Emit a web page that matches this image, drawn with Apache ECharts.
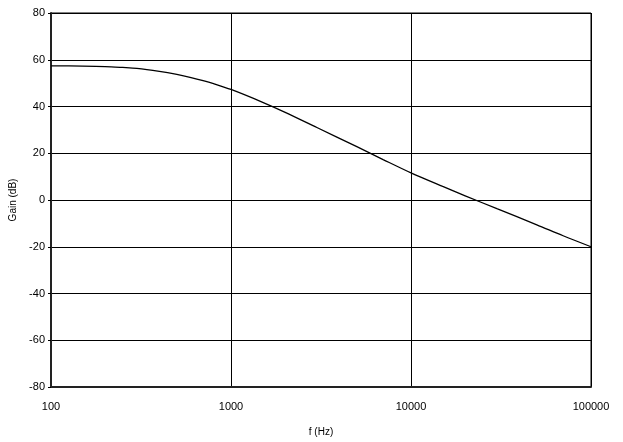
<!DOCTYPE html>
<html>
<head>
<meta charset="utf-8">
<script src="https://cdn.jsdelivr.net/npm/echarts@6/dist/echarts.min.js"></script>
<style>html,body{margin:0;padding:0;background:#fff;}#c{width:623px;height:442px;}</style>
</head>
<body>
<div id="c"></div>
<script>
var freqs = [100, 150, 200, 250, 300, 400, 500, 600, 700, 800, 1000, 1500, 2000, 3000, 5000, 7000, 10000, 15000, 20000, 30000, 50000, 70000, 100000];
var gains = [57.4, 57.3, 57.1, 56.7, 56.3, 55.0, 53.7, 52.4, 51.1, 49.8, 47.3, 41.8, 37.5, 31.0, 22.8, 17.3, 11.6, 5.8, 1.8, -3.7, -10.6, -15.3, -20.0];
var xTitle = 'f (Hz)';
var yTitle = 'Gain (dB)';

var chart = echarts.init(document.getElementById('c'));
var font = 'Liberation Sans, Arial, sans-serif';
chart.setOption({
  animation: false,
  backgroundColor: '#fff',
  grid: { left: 51, right: 32, top: 13, bottom: 55, show: true, borderColor: '#000', borderWidth: 1, containLabel: false },
  xAxis: {
    type: 'log', logBase: 10, min: 100, max: 100000,
    name: xTitle, nameLocation: 'middle', nameGap: 40,
    nameTextStyle: { color: '#000', fontSize: 10, fontFamily: font },
    axisLine: { show: true, onZero: false, lineStyle: { color: '#222', width: 2 } },
    axisTick: { show: false },
    minorTick: { show: false },
    axisLabel: { color: '#000', fontSize: 11, fontFamily: font, margin: 14, formatter: function (v) { return String(Math.round(v)); } },
    splitLine: { show: true, lineStyle: { color: '#000', width: 1 } }
  },
  yAxis: {
    type: 'value', min: -80, max: 80, interval: 20,
    name: yTitle, nameLocation: 'middle', nameGap: 31, nameRotate: 90,
    nameTextStyle: { color: '#000', fontSize: 10, fontFamily: font },
    axisLine: { show: true, onZero: false, lineStyle: { color: '#222', width: 2 } },
    axisTick: { show: true, length: 3, inside: false, lineStyle: { color: '#000' } },
    axisLabel: { color: '#000', fontSize: 11, fontFamily: font, margin: 6 },
    splitLine: { show: true, lineStyle: { color: '#000', width: 1 } }
  },
  series: [{
    type: 'line',
    data: freqs.map(function (f, i) { return [f, gains[i]]; }),
    showSymbol: false,
    smooth: 0.3,
    lineStyle: { color: '#000', width: 1.3 }
  }]
});
</script>
</body>
</html>
